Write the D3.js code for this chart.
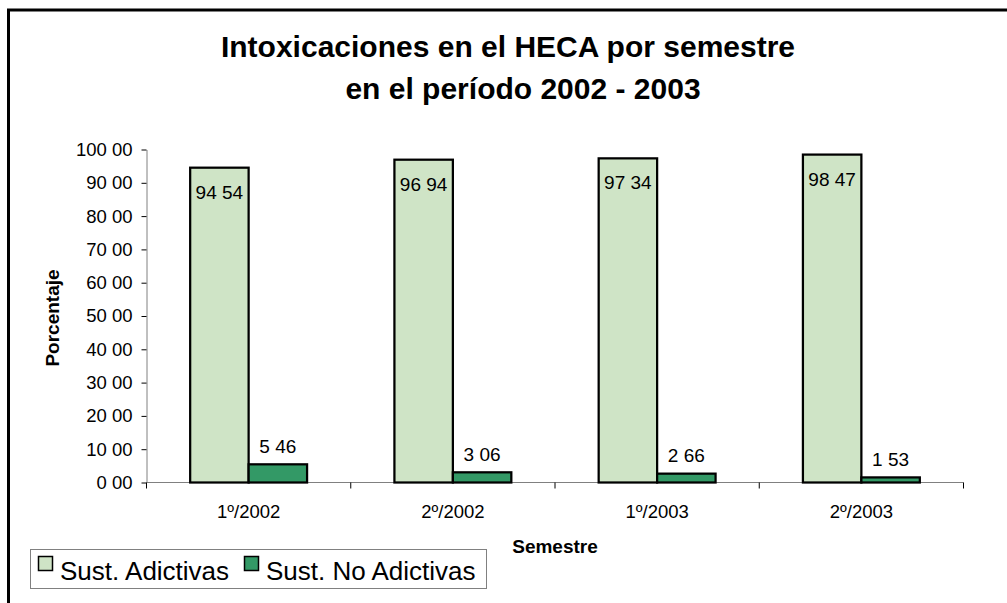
<!DOCTYPE html>
<html>
<head>
<meta charset="utf-8">
<script src="https://cdn.jsdelivr.net/npm/d3@7"></script>
<style>
  body { margin: 0; background: #fff; }
  svg { display: block; font-family: "Liberation Sans", Arial, sans-serif; }
</style>
</head>
<body>
<svg id="chart"></svg>
<script>
// semestres y series
var semestres = ["1º/2002", "2º/2002", "1º/2003", "2º/2003"];
var series = ["Sust. Adictivas", "Sust. No Adictivas"];
var adictivas = [94.54, 96.94, 97.34, 98.47];
var noAdictivas = [5.46, 3.06, 2.66, 1.53];
var yTicks = [0, 10, 20, 30, 40, 50, 60, 70, 80, 90, 100];
var colores = ["#cfe4c6", "#339966"];

var W = 1007, H = 603;
var margin = {top: 149.5, right: 43.5, bottom: 120.5, left: 146.5};
var width = W - margin.left - margin.right;
var height = H - margin.top - margin.bottom;

// the numbers in the picture use a space as decimal mark
var fmt = function (v) { return d3.format(".2f")(v).replace(".", " "); };

var svg = d3.select("#chart").attr("width", W).attr("height", H);

// chart frame (runs off the right and bottom edges)
svg.append("rect")
    .attr("x", 8.5).attr("y", 10)
    .attr("width", 1100).attr("height", 700)
    .attr("fill", "none").attr("stroke", "#000").attr("stroke-width", 3);

svg.append("text")
    .attr("x", 508).attr("y", 57)
    .attr("text-anchor", "middle")
    .attr("font-size", 30).attr("font-weight", "bold")
    .text("Intoxicaciones en el HECA por semestre");
svg.append("text")
    .attr("x", 523).attr("y", 99)
    .attr("text-anchor", "middle")
    .attr("font-size", 30).attr("font-weight", "bold")
    .text("en el período 2002 - 2003");

var g = svg.append("g")
    .attr("transform", "translate(" + margin.left + "," + margin.top + ")");

var x0 = d3.scaleBand()
    .domain(semestres)
    .range([0, width])
    .paddingInner(0.4276)
    .paddingOuter(0.2138);

var x1 = d3.scaleBand()
    .domain(series)
    .range([0, x0.bandwidth()]);

var y = d3.scaleLinear()
    .domain([0, 100])
    .range([height, 0]);

// y axis
var yAxis = g.append("g")
    .call(d3.axisLeft(y).tickValues(yTicks).tickFormat(fmt).tickSize(5).tickSizeOuter(0));
yAxis.select(".domain").attr("stroke", "#808080");
yAxis.selectAll(".tick line").attr("stroke", "#000");
yAxis.selectAll(".tick text")
    .attr("font-size", 18.5).attr("fill", "#000")
    .attr("font-family", "Liberation Sans, Arial, sans-serif")
    .attr("x", -14);

// x axis: ticks sit between the categories
var xAxis = g.append("g")
    .attr("transform", "translate(0," + height + ")");
xAxis.append("line")
    .attr("x1", 0).attr("x2", width)
    .attr("stroke", "#808080");
xAxis.selectAll(".sep")
  .data(d3.range(semestres.length + 1))
  .join("line")
    .attr("class", "sep")
    .attr("x1", i => i * x0.step()).attr("x2", i => i * x0.step())
    .attr("y1", 0).attr("y2", 6)
    .attr("stroke", "#000");
xAxis.selectAll(".cat")
  .data(semestres)
  .join("text")
    .attr("class", "cat")
    .attr("x", d => x0(d) + x0.bandwidth() / 2)
    .attr("y", 35.5)
    .attr("text-anchor", "middle")
    .attr("font-size", 18.5)
    .text(d => d);

// bars
var rows = semestres.map((s, i) => ({
  semestre: s,
  valores: [
    {serie: series[0], v: adictivas[i], c: colores[0]},
    {serie: series[1], v: noAdictivas[i], c: colores[1]}
  ]
}));

var grupos = g.selectAll(".grupo")
  .data(rows)
  .join("g")
    .attr("class", "grupo")
    .attr("transform", d => "translate(" + x0(d.semestre) + ",0)");

grupos.selectAll("rect")
  .data(d => d.valores)
  .join("rect")
    .attr("x", d => x1(d.serie))
    .attr("y", d => y(d.v))
    .attr("width", x1.bandwidth())
    .attr("height", d => height - y(d.v))
    .attr("fill", d => d.c)
    .attr("stroke", "#000")
    .attr("stroke-width", 2.25);

grupos.selectAll("text")
  .data(d => d.valores)
  .join("text")
    .attr("x", d => x1(d.serie) + x1.bandwidth() / 2)
    .attr("y", (d, i) => i === 0 ? y(d.v) + 31 : y(d.v) - 11.5)
    .attr("text-anchor", "middle")
    .attr("font-size", 19)
    .text(d => fmt(d.v));

// axis titles
svg.append("text")
    .attr("transform", "translate(59,318) rotate(-90)")
    .attr("text-anchor", "middle")
    .attr("font-size", 19).attr("font-weight", "bold")
    .text("Porcentaje");
svg.append("text")
    .attr("x", margin.left + width / 2).attr("y", 553)
    .attr("text-anchor", "middle")
    .attr("font-size", 19).attr("font-weight", "bold")
    .text("Semestre");

// legend
var legend = svg.append("g");
legend.append("rect")
    .attr("x", 30.5).attr("y", 549.5)
    .attr("width", 456).attr("height", 39)
    .attr("fill", "#fff").attr("stroke", "#808080");
var legX = [38, 244];
var item = legend.selectAll(".item")
  .data(series)
  .join("g")
    .attr("class", "item")
    .attr("transform", (d, i) => "translate(" + legX[i] + ",0)");
item.append("rect")
    .attr("x", 0.5).attr("y", 556.5)
    .attr("width", 14).attr("height", 14)
    .attr("fill", (d, i) => colores[i])
    .attr("stroke", "#000").attr("stroke-width", 1.5);
item.append("text")
    .attr("x", 22).attr("y", 580)
    .attr("font-size", 26)
    .text(d => d);
</script>
</body>
</html>
